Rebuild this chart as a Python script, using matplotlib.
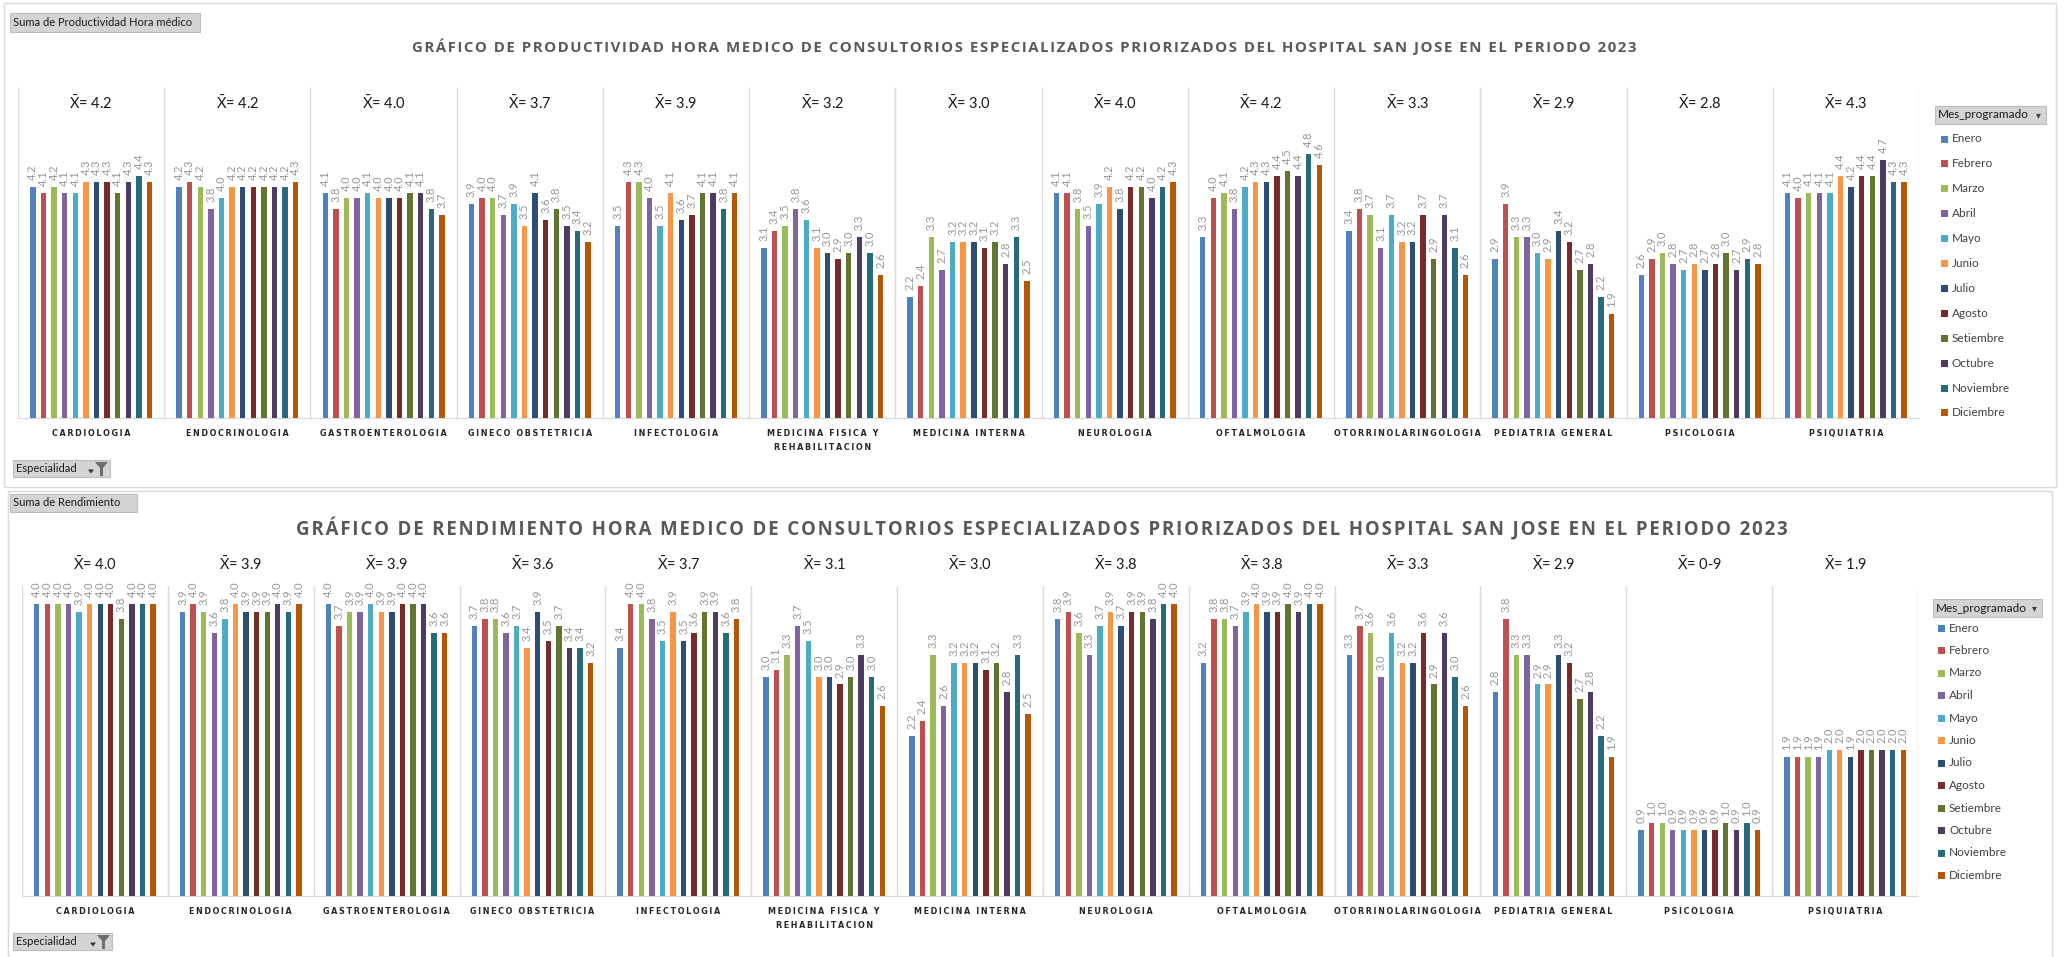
import matplotlib
matplotlib.use("Agg")
import matplotlib.pyplot as plt
import matplotlib.transforms as mtransforms
from matplotlib.patches import Rectangle, Polygon
import numpy as np

plt.rcParams["mathtext.fontset"] = "custom"
plt.rcParams["mathtext.rm"] = "Lato"
plt.rcParams["mathtext.it"] = "Lato:italic"
plt.rcParams["mathtext.bf"] = "Lato:bold"

# ---------------------------------------------------------------- data
especialidades = [
    "CARDIOLOGIA", "ENDOCRINOLOGIA", "GASTROENTEROLOGIA", "GINECO OBSTETRICIA",
    "INFECTOLOGIA", "MEDICINA FISICA Y\nREHABILITACION", "MEDICINA INTERNA",
    "NEUROLOGIA", "OFTALMOLOGIA", "OTORRINOLARINGOLOGIA", "PEDIATRIA GENERAL",
    "PSICOLOGIA", "PSIQUIATRIA",
]
meses = ["Enero", "Febrero", "Marzo", "Abril", "Mayo", "Junio", "Julio",
         "Agosto", "Setiembre", "Octubre", "Noviembre", "Diciembre"]
colores_meses = ["#4F81BD", "#C0504D", "#9BBB59", "#8064A2", "#4BACC6", "#F79646",
                 "#2C4D75", "#772C2A", "#5F7530", "#4D3B62", "#276A7C", "#B65708"]

# Productividad hora médico: one row per specialty, one value per month
productividad = [
    [4.2, 4.1, 4.2, 4.1, 4.1, 4.3, 4.3, 4.3, 4.1, 4.3, 4.4, 4.3],  # Cardiología
    [4.2, 4.3, 4.2, 3.8, 4.0, 4.2, 4.2, 4.2, 4.2, 4.2, 4.2, 4.3],  # Endocrinología
    [4.1, 3.8, 4.0, 4.0, 4.1, 4.0, 4.0, 4.0, 4.1, 4.1, 3.8, 3.7],  # Gastroenterología
    [3.9, 4.0, 4.0, 3.7, 3.9, 3.5, 4.1, 3.6, 3.8, 3.5, 3.4, 3.2],  # Gineco obstetricia
    [3.5, 4.3, 4.3, 4.0, 3.5, 4.1, 3.6, 3.7, 4.1, 4.1, 3.8, 4.1],  # Infectología
    [3.1, 3.4, 3.5, 3.8, 3.6, 3.1, 3.0, 2.9, 3.0, 3.3, 3.0, 2.6],  # Medicina física
    [2.2, 2.4, 3.3, 2.7, 3.2, 3.2, 3.2, 3.1, 3.2, 2.8, 3.3, 2.5],  # Medicina interna
    [4.1, 4.1, 3.8, 3.5, 3.9, 4.2, 3.8, 4.2, 4.2, 4.0, 4.2, 4.3],  # Neurología
    [3.3, 4.0, 4.1, 3.8, 4.2, 4.3, 4.3, 4.4, 4.5, 4.4, 4.8, 4.6],  # Oftalmología
    [3.4, 3.8, 3.7, 3.1, 3.7, 3.2, 3.2, 3.7, 2.9, 3.7, 3.1, 2.6],  # Otorrinolaringología
    [2.9, 3.9, 3.3, 3.3, 3.0, 2.9, 3.4, 3.2, 2.7, 2.8, 2.2, 1.9],  # Pediatría general
    [2.6, 2.9, 3.0, 2.8, 2.7, 2.8, 2.7, 2.8, 3.0, 2.7, 2.9, 2.8],  # Psicología
    [4.1, 4.0, 4.1, 4.1, 4.1, 4.4, 4.2, 4.4, 4.4, 4.7, 4.3, 4.3],  # Psiquiatría
]
media_productividad = ["4.2", "4.2", "4.0", "3.7", "3.9", "3.2", "3.0",
                       "4.0", "4.2", "3.3", "2.9", "2.8", "4.3"]

# Rendimiento hora médico: one row per specialty, one value per month
rendimiento = [
    [4.0, 4.0, 4.0, 4.0, 3.9, 4.0, 4.0, 4.0, 3.8, 4.0, 4.0, 4.0],  # Cardiología
    [3.9, 4.0, 3.9, 3.6, 3.8, 4.0, 3.9, 3.9, 3.9, 4.0, 3.9, 4.0],  # Endocrinología
    [4.0, 3.7, 3.9, 3.9, 4.0, 3.9, 3.9, 4.0, 4.0, 4.0, 3.6, 3.6],  # Gastroenterología
    [3.7, 3.8, 3.8, 3.6, 3.7, 3.4, 3.9, 3.5, 3.7, 3.4, 3.4, 3.2],  # Gineco obstetricia
    [3.4, 4.0, 4.0, 3.8, 3.5, 3.9, 3.5, 3.6, 3.9, 3.9, 3.6, 3.8],  # Infectología
    [3.0, 3.1, 3.3, 3.7, 3.5, 3.0, 3.0, 2.9, 3.0, 3.3, 3.0, 2.6],  # Medicina física
    [2.2, 2.4, 3.3, 2.6, 3.2, 3.2, 3.2, 3.1, 3.2, 2.8, 3.3, 2.5],  # Medicina interna
    [3.8, 3.9, 3.6, 3.3, 3.7, 3.9, 3.7, 3.9, 3.9, 3.8, 4.0, 4.0],  # Neurología
    [3.2, 3.8, 3.8, 3.7, 3.9, 4.0, 3.9, 3.9, 4.0, 3.9, 4.0, 4.0],  # Oftalmología
    [3.3, 3.7, 3.6, 3.0, 3.6, 3.2, 3.2, 3.6, 2.9, 3.6, 3.0, 2.6],  # Otorrinolaringología
    [2.8, 3.8, 3.3, 3.3, 2.9, 2.9, 3.3, 3.2, 2.7, 2.8, 2.2, 1.9],  # Pediatría general
    [0.9, 1.0, 1.0, 0.9, 0.9, 0.9, 0.9, 0.9, 1.0, 0.9, 1.0, 0.9],  # Psicología
    [1.9, 1.9, 1.9, 1.9, 2.0, 2.0, 1.9, 2.0, 2.0, 2.0, 2.0, 2.0],  # Psiquiatría
]
media_rendimiento = ["4.0", "3.9", "3.9", "3.6", "3.7", "3.1", "3.0",
                     "3.8", "3.8", "3.3", "2.9", "0-9", "1.9"]

titulo_productividad = ("GRÁFICO DE PRODUCTIVIDAD HORA MEDICO DE CONSULTORIOS ESPECIALIZADOS "
                        "PRIORIZADOS DEL HOSPITAL SAN JOSE EN EL PERIODO 2023")
titulo_rendimiento = ("GRÁFICO DE RENDIMIENTO HORA MEDICO DE CONSULTORIOS ESPECIALIZADOS "
                      "PRIORIZADOS DEL HOSPITAL SAN JOSE EN EL PERIODO 2023")

# ---------------------------------------------------------------- figure
W, H, DPI = 2064, 957, 100
fig = plt.figure(figsize=(W / DPI, H / DPI), dpi=DPI, facecolor="white")


def fx(x):
    return x / W


def fy(y):
    return 1 - y / H


def espaciar(texto, sep):
    return "\n".join(sep.join(linea) for linea in texto.split("\n"))


def marco(x0, y0, x1, y1):
    fig.patches.append(Rectangle((fx(x0), fy(y1)), (x1 - x0) / W, (y1 - y0) / H,
                                 transform=fig.transFigure, fill=False,
                                 edgecolor="#d9d9d9", linewidth=1.0))


def boton(x0, y0, x1, y1, texto, fs=8):
    fig.patches.append(Rectangle((fx(x0), fy(y1)), (x1 - x0) / W, (y1 - y0) / H,
                                 transform=fig.transFigure, facecolor="#d4d4d4",
                                 edgecolor="#bdbdbd", linewidth=0.8))
    fig.text(fx(x0 + 3), fy((y0 + y1) / 2), texto, ha="left", va="center",
             fontsize=fs, color="#1a1a1a", family=["Lato", "DejaVu Sans"])


def boton_filtro(x0, y0, x1, y1):
    boton(x0, y0, x1, y1, "Especialidad")
    # dropdown arrow and funnel icon
    xa = x1 - 22
    ym = (y0 + y1) / 2 + 3
    fig.patches.append(Polygon([(fx(xa), fy(ym - 2)), (fx(xa + 6), fy(ym - 2)),
                                (fx(xa + 3), fy(ym + 2))], closed=True,
                               transform=fig.transFigure, facecolor="#333333"))
    xf = x1 - 15
    fig.patches.append(Polygon([(fx(xf), fy(y0 + 2)), (fx(xf + 13), fy(y0 + 2)),
                                (fx(xf + 8), fy(y0 + 8)), (fx(xf + 8), fy(y1 - 1)),
                                (fx(xf + 5), fy(y1 - 1)), (fx(xf + 5), fy(y0 + 8))],
                               closed=True, transform=fig.transFigure,
                               facecolor="#6e6e6e"))


def titulo(texto, cx, cy, ancho_obj, fs0=13):
    t = fig.text(fx(cx), fy(cy), espaciar(texto, "\u200a"), ha="center", va="center",
                 fontsize=fs0, fontweight="bold", color="#595959",
                 family=["Open Sans", "DejaVu Sans"])
    r = fig.canvas.get_renderer()
    w = t.get_window_extent(r).width
    t.set_fontsize(fs0 * ancho_obj / w)


def leyenda(x0, x1, y_cab, y_primera, paso, x_cuadro, tam=7):
    fig.patches.append(Rectangle((fx(x0), fy(y_cab + 9)), (x1 - x0) / W, 18 / H,
                                 transform=fig.transFigure, facecolor="#d4d4d4",
                                 edgecolor="#bdbdbd", linewidth=0.8))
    fig.text(fx(x0 + 3), fy(y_cab), "Mes_programado", ha="left", va="center",
             fontsize=8.5, color="#1a1a1a", family="Lato")
    fig.text(fx(x1 - 5), fy(y_cab), "\u25BE", ha="right", va="center",
             fontsize=7, color="#404040", family="DejaVu Sans")
    for i, (mes, col) in enumerate(zip(meses, colores_meses)):
        yc = y_primera + i * paso
        fig.patches.append(Rectangle((fx(x_cuadro), fy(yc + tam / 2)), tam / W, tam / H,
                                     transform=fig.transFigure, facecolor=col,
                                     edgecolor="none"))
        fig.text(fx(x_cuadro + tam + 4), fy(yc), mes, ha="left", va="center",
                 fontsize=8.5, color="#404040", family="Lato")


def panel(izq, der, arriba, base, valores, medias, ymax, y_media):
    ax = fig.add_axes([fx(izq), fy(base), (der - izq) / W, (base - arriba) / H])
    datos = np.array(valores)
    n_cat, n_mes = datos.shape
    centros = np.arange(n_cat)
    paso, ancho = 0.0725, 0.037
    for m in range(n_mes):
        xs = centros + (m - (n_mes - 1) / 2) * paso
        ax.bar(xs, datos[:, m], width=ancho, color=colores_meses[m],
               label=meses[m], zorder=3)
        for x, v in zip(xs, datos[:, m]):
            ax.annotate(f"{v:.1f}", (x, v), xytext=(0, 5), textcoords="offset points",
                        rotation=90, ha="center", va="bottom", fontsize=8,
                        color="#959595", family="Lato", zorder=4)
    ax.set_xlim(-0.5, n_cat - 0.5)
    ax.set_ylim(0, ymax)
    ax.vlines(np.arange(n_cat + 1) - 0.5, 0, ymax, color="#d9d9d9", lw=1, zorder=1)
    for s in ("left", "right", "top"):
        ax.spines[s].set_visible(False)
    ax.spines["bottom"].set_color("#d9d9d9")
    ax.set_yticks([])
    ax.set_xticks(centros)
    ax.set_xticklabels([espaciar(e, "\u2009") for e in especialidades],
                       fontsize=5.8, fontweight="bold", color="#262626",
                       family="DejaVu Sans")
    for lab in ax.get_xticklabels():
        lab.set_linespacing(1.7)
    ax.tick_params(axis="x", length=0, pad=8)
    ax.patch.set_alpha(0)
    trans = mtransforms.blended_transform_factory(ax.transData, ax.transAxes)
    for c, m in zip(centros, medias):
        ax.text(c, y_media, r"$\bar{\mathrm{X}}$= " + m, transform=trans,
                ha="center", va="center", fontsize=10.5, color="#1a1a1a",
                family="Lato", zorder=5)
    return ax


# ---------------------------------------------------------------- top chart
marco(4, 3, 2056, 487)
boton(10, 13, 200, 32, "Suma de Productividad Hora médico")
titulo(titulo_productividad, 1024, 47, 1212, 13)
panel(18, 1919, 87, 418, productividad, media_productividad, 6.02, 0.952)
boton_filtro(13, 460, 110, 477)
leyenda(1935, 2046, 115, 139, 24.9, 1941)

# ---------------------------------------------------------------- bottom chart
marco(8, 491, 2052, 962)
boton(10, 494, 137, 512, "Suma de Rendimiento")
titulo(titulo_rendimiento, 1042, 529, 1501, 15)
panel(22, 1918, 586, 896, rendimiento, media_rendimiento, 4.25, 1.071)
boton_filtro(13, 933, 112, 950)
leyenda(1933, 2042, 608, 628, 22.5, 1938)

fig.savefig("out.png", dpi=DPI, facecolor="white")
